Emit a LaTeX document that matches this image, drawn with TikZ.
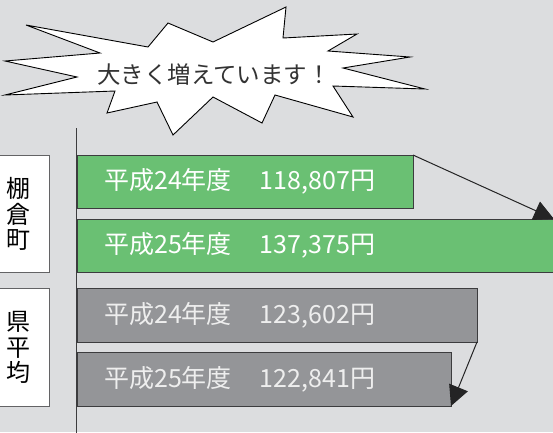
\documentclass[tikz,border=0pt]{standalone}
\usepackage{fontspec}
\newfontfamily\jp{Noto Sans CJK JP}
\usepackage{tikz}
\usetikzlibrary{arrows.meta,positioning}
\definecolor{fondo}{RGB}{220,221,223}
\definecolor{verdeBarra}{RGB}{106,192,115}
\definecolor{grisBarra}{RGB}{148,149,152}
\definecolor{grisOscuro}{RGB}{60,60,62}
\definecolor{textoGris}{RGB}{238,238,238}
\tikzstyle{bar}   =[rectangle, draw=grisOscuro, line width=0.9pt,
                    inner sep=0pt, outer sep=0pt, anchor=north west]
\tikzstyle{barText}=[inner sep=0pt, anchor=west,
                    font=\jp\fontsize{25}{27}\selectfont]
\tikzstyle{label} =[rectangle, draw=grisOscuro!80, fill=white, line width=0.8pt,
                    inner sep=0pt, anchor=north east, align=center,
                    font=\jp\fontsize{24}{25.5}\selectfont]
\tikzstyle{arrow} =[line width=1pt, grisOscuro!60!black,
                    -{Triangle[length=20pt,width=20pt]}]

\begin{document}
\begin{tikzpicture}[x=1pt,y=-1pt]
    \useasboundingbox (0,0) rectangle (553,432);
    \fill[fondo] (0,0) rectangle (553,432);

    % starburst
    \draw[fill=white, line width=0.9pt, line join=miter]
        (26,25) -- (148,47) -- (168,23) -- (213,42) -- (286,7) -- (283,38)
        -- (357,34) -- (328,51) -- (410,57) -- (343,68) -- (425,89)
        -- (333,86) -- (353,117) -- (275,95) -- (262,123) -- (213,97)
        -- (173,135) -- (157,102) -- (107,113) -- (115,91) -- (5,95)
        -- (77,77) -- (5,61) -- (100,53) -- cycle;
    \draw (214,75) node (title) [inner sep=0pt, text=black!80,
        font=\jp\fontsize{23.5}{25}\selectfont] {大きく増えています！};

    % axis
    \draw (76,128) coordinate (axTop);
    \draw (76,433) coordinate (axBot);
    \draw [line width=1pt, grisOscuro] (axTop) -- (axBot);

    % labels
    \draw (50,155) node (lab1) [label, minimum width=62pt, minimum height=117pt]
        {棚\\倉\\町};
    \draw (50,288) node (lab2) [label, minimum width=62pt, minimum height=118pt]
        {県\\平\\均};

    % bars
    \draw (77,155) node (b1) [bar, fill=verdeBarra, minimum width=336pt, minimum height=53pt] {};
    \draw (77,219) node (b2) [bar, fill=verdeBarra, minimum width=478pt, minimum height=53pt] {};
    \draw (77,288) node (b3) [bar, fill=grisBarra, minimum width=400pt, minimum height=54pt] {};
    \draw (77,352) node (b4) [bar, fill=grisBarra, minimum width=374pt, minimum height=54pt] {};

    \node (t1) [barText, white, right=27pt of b1.west] {平成24年度\hspace{28pt}118,807円};
    \node (t2) [barText, white, right=27pt of b2.west] {平成25年度\hspace{28pt}137,375円};
    \node (t3) [barText, textoGris, right=27pt of b3.west] {平成24年度\hspace{28pt}123,602円};
    \node (t4) [barText, textoGris, right=27pt of b4.west] {平成25年度\hspace{28pt}122,841円};

    % arrows
    \draw [arrow] (b1.north east) -- ([xshift=-1pt]b2.north east);
    \draw [arrow] (b3.south east) -- (b4.south east);

\end{tikzpicture}
\end{document}
